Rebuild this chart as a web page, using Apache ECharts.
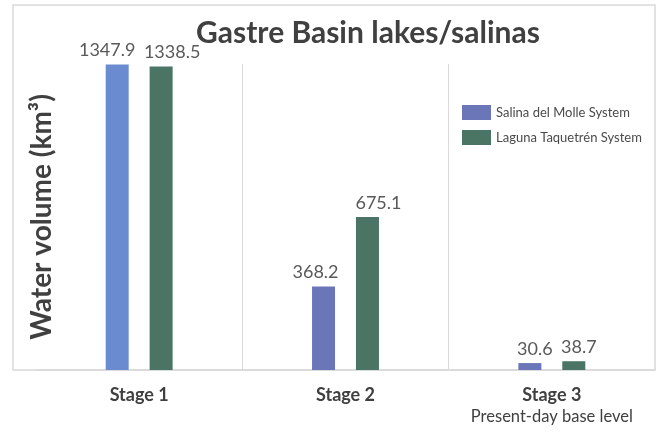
<!DOCTYPE html>
<html>
<head>
<meta charset="utf-8">
<script src="https://cdn.jsdelivr.net/npm/echarts@6/dist/echarts.min.js"></script>
<style>
  html, body { margin: 0; padding: 0; background: #fff; }
  #chart { width: 662px; height: 433px; }
</style>
</head>
<body>
<div id="chart"></div>
<script>
// data
const stages = ['Stage 1', 'Stage 2', 'Stage 3'];
const stageNotes = ['', '', 'Present-day base level'];
const salinaDelMolle = [1347.9, 368.2, 30.6];
const lagunaTaquetren = [1338.5, 675.1, 38.7];

// label nudges (Excel moved some labels sideways so they don't collide)
const molleShift = [-10, -8, 5];
const taquetrenShift = [11, 11, 5];

const font = 'Lato, "Open Sans", sans-serif';
const chart = echarts.init(document.getElementById('chart'));

function barData(values, shifts, firstColor) {
  return values.map(function (v, i) {
    const item = {
      value: v,
      label: { offset: [shifts[i], 0] }
    };
    if (i === 0 && firstColor) {
      item.itemStyle = { color: firstColor };
    }
    return item;
  });
}

const valueLabel = {
  show: true,
  position: 'top',
  distance: 5,
  fontFamily: font,
  fontSize: 18,
  color: '#595959'
};

const option = {
  animation: false,
  backgroundColor: '#fff',
  textStyle: { fontFamily: font },
  title: {
    text: 'Gastre Basin lakes/salinas',
    left: 368,
    top: 18,
    textAlign: 'center',
    padding: 0,
    textStyle: {
      fontFamily: font,
      fontSize: 30,
      fontWeight: 'bold',
      color: '#404040'
    }
  },
  graphic: [{
    type: 'rect',
    z: -1,
    shape: { x: 13, y: 5, width: 642, height: 365 },
    style: { fill: 'none', stroke: '#d9d9d9', lineWidth: 1.5 }
  }],
  legend: {
    orient: 'vertical',
    left: 462,
    top: 105,
    icon: 'rect',
    itemWidth: 29,
    itemHeight: 15,
    itemGap: 10,
    padding: 0,
    textStyle: { fontFamily: font, fontSize: 13, color: '#4a4a4a' },
    data: ['Salina del Molle System', 'Laguna Taquetrén System']
  },
  grid: {
    left: 36,
    right: 7,
    top: 64,
    bottom: 63
  },
  xAxis: {
    type: 'category',
    data: stages,
    axisTick: { show: false },
    axisLine: { lineStyle: { color: '#d9d9d9', width: 1.5 } },
    splitLine: {
      show: true,
      interval: 0,
      showMinLine: false,
      showMaxLine: false,
      lineStyle: { color: '#d9d9d9', width: 1 }
    },
    axisLabel: {
      interval: 0,
      margin: 15,
      verticalAlign: 'top',
      formatter: function (v, i) {
        const note = stageNotes[i];
        return note ? '{b|' + v + '}\n{s|' + note + '}' : '{b|' + v + '}';
      },
      rich: {
        b: { fontFamily: font, fontSize: 18, fontWeight: 'bold', color: '#404040', lineHeight: 21 },
        s: { fontFamily: font, fontSize: 16.5, color: '#404040', lineHeight: 21 }
      }
    }
  },
  yAxis: {
    type: 'value',
    min: 0,
    max: 1350,
    name: 'Water volume (km³)',
    nameLocation: 'middle',
    nameGap: -20,
    nameTextStyle: {
      fontFamily: font,
      fontSize: 28,
      fontWeight: 'bold',
      color: '#404040'
    },
    axisLine: { show: false },
    axisTick: { show: false },
    axisLabel: { show: false },
    splitLine: { show: false }
  },
  series: [
    {
      name: 'Salina del Molle System',
      type: 'bar',
      barWidth: 23,
      barGap: '91%',
      itemStyle: { color: '#6b76b8' },
      label: valueLabel,
      data: barData(salinaDelMolle, molleShift, '#6a8bd0')
    },
    {
      name: 'Laguna Taquetrén System',
      type: 'bar',
      barWidth: 23,
      barGap: '91%',
      itemStyle: { color: '#4a7564' },
      label: valueLabel,
      data: barData(lagunaTaquetren, taquetrenShift)
    }
  ]
};

chart.setOption(option);
</script>
</body>
</html>
